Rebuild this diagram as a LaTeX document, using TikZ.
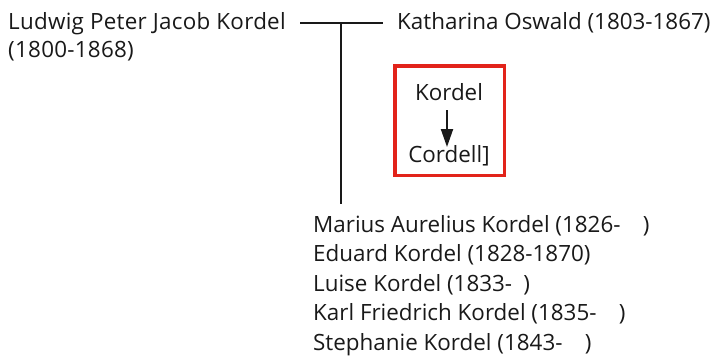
\documentclass[tikz,border=0pt]{standalone}
\usepackage{fontspec}
\setmainfont{Open Sans}
\usetikzlibrary{arrows.meta}
\definecolor{boxred}{HTML}{E2231A}
\tikzset{
  person/.style={inner sep=0pt, anchor=base west, font=\fontsize{22.4}{29.5}\selectfont, text=black!90},
  line/.style={line width=2pt, black!90},
}
\begin{document}
\begin{tikzpicture}[x=1pt,y=-1pt]
\useasboundingbox (0,0) rectangle (716,356);
% last-line baselines are used as anchors for multi-line nodes
\node[person, align=left, font=\fontsize{22.4}{28.5}\addfontfeature{LetterSpace=1.2}\selectfont] (ludwig) at (8,57.5) {Ludwig Peter Jacob Kordel\\(1800-1868)};
\node[person] (kath) at (397,29) {Katharina Oswald (1803-1867)};
\coordinate (lstart) at (300,23);
\coordinate (lend) at (383,23);
\coordinate (junc) at (341,23);
\draw[line] (lstart) -- (lend);
\node[person, align=left] (kids) at (313,350) {Marius Aurelius Kordel (1826-\quad)\\Eduard Kordel (1828-1870)\\Luise Kordel (1833-\enspace)\\Karl Friedrich Kordel (1835-\quad)\\Stephanie Kordel (1843-\quad)};
\coordinate (kidtop) at (341,204);
\draw[line] (junc) -- (kidtop);
\draw[boxred, line width=3.5pt] (394.75,65.75) rectangle (504.25,175.25);
\node[person, anchor=base] (old) at (449,100) {Kordel};
\node[person, anchor=base] (new) at (449,162) {Cordell]};
\coordinate (arrtop) at (447,110);
\coordinate (arrbot) at (447,147);
\draw[line, -{Triangle[length=18pt,width=12pt]}] (arrtop) -- (arrbot);
\end{tikzpicture}
\end{document}
